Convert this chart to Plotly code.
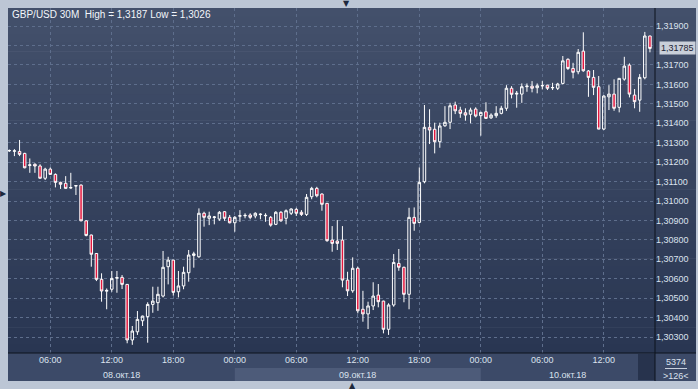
import pandas as pd
import plotly.graph_objects as go

# ---------------- data ----------------
symbol = "GBP/USD"
timeframe = "30M"
start_time = "2018-10-08 02:00"
bar_minutes = 30

open_ = [1.31258, 1.31256, 1.31255, 1.31245, 1.31183, 1.31189, 1.31180, 1.31117, 1.31164, 1.31137,
         1.31096, 1.31091, 1.31067, 1.31077, 1.31082, 1.30898, 1.30825, 1.30730, 1.30597, 1.30536,
         1.30546, 1.30603, 1.30607, 1.30571, 1.30285, 1.30327, 1.30384, 1.30405, 1.30468, 1.30477,
         1.30511, 1.30662, 1.30696, 1.30533, 1.30563, 1.30631, 1.30720, 1.30713, 1.30937, 1.30911,
         1.30915, 1.30907, 1.30945, 1.30916, 1.30888, 1.30922, 1.30924, 1.30928, 1.30923, 1.30930,
         1.30924, 1.30916, 1.30880, 1.30942, 1.30911, 1.30937, 1.30957, 1.30942, 1.30931, 1.31022,
         1.31065, 1.31036, 1.30988, 1.30799, 1.30794, 1.30799, 1.30593, 1.30538, 1.30654, 1.30443,
         1.30419, 1.30460, 1.30516, 1.30485, 1.30340, 1.30465, 1.30679, 1.30659, 1.30520, 1.30916,
         1.30890, 1.31099, 1.31379, 1.31369, 1.31305, 1.31387, 1.31405, 1.31494, 1.31468, 1.31454,
         1.31446, 1.31473, 1.31439, 1.31459, 1.31428, 1.31439, 1.31451, 1.31477, 1.31580, 1.31550,
         1.31550, 1.31588, 1.31591, 1.31583, 1.31592, 1.31596, 1.31582, 1.31580, 1.31605, 1.31729,
         1.31682, 1.31665, 1.31771, 1.31669, 1.31636, 1.31588, 1.31370, 1.31536, 1.31550, 1.31482,
         1.31627, 1.31699, 1.31545, 1.31519, 1.31634, 1.31849]

high = [1.31265, 1.31267, 1.31314, 1.31248, 1.31219, 1.31194, 1.31189, 1.31171, 1.31173, 1.31142,
        1.31099, 1.31128, 1.31145, 1.31080, 1.31085, 1.30901, 1.30827, 1.30732, 1.30628, 1.30550,
        1.30640, 1.30640, 1.30619, 1.30573, 1.30357, 1.30434, 1.30410, 1.30479, 1.30559, 1.30559,
        1.30743, 1.30713, 1.30698, 1.30640, 1.30662, 1.30748, 1.30739, 1.30962, 1.30945, 1.30945,
        1.30923, 1.30948, 1.30948, 1.30928, 1.30923, 1.30953, 1.30937, 1.30937, 1.30942, 1.30937,
        1.30937, 1.30923, 1.30948, 1.30948, 1.30957, 1.30962, 1.30965, 1.30953, 1.31036, 1.31073,
        1.31073, 1.31039, 1.30990, 1.30871, 1.30902, 1.30871, 1.30636, 1.30710, 1.30662, 1.30538,
        1.30482, 1.30582, 1.30573, 1.30487, 1.30474, 1.30727, 1.30753, 1.30662, 1.30965, 1.30967,
        1.31173, 1.31494, 1.31472, 1.31403, 1.31403, 1.31488, 1.31505, 1.31511, 1.31485, 1.31477,
        1.31480, 1.31482, 1.31459, 1.31508, 1.31451, 1.31488, 1.31490, 1.31596, 1.31591, 1.31566,
        1.31605, 1.31605, 1.31617, 1.31605, 1.31617, 1.31598, 1.31608, 1.31608, 1.31746, 1.31734,
        1.31711, 1.31782, 1.31868, 1.31674, 1.31674, 1.31643, 1.31545, 1.31596, 1.31626, 1.31633,
        1.31742, 1.31708, 1.31576, 1.31653, 1.31870, 1.31850]

low = [1.31252, 1.31231, 1.31231, 1.31168, 1.31145, 1.31145, 1.31115, 1.31108, 1.31134, 1.31070,
       1.31062, 1.31063, 1.31063, 1.31031, 1.30896, 1.30818, 1.30662, 1.30588, 1.30482, 1.30443,
       1.30533, 1.30528, 1.30547, 1.30268, 1.30260, 1.30311, 1.30357, 1.30271, 1.30425, 1.30435,
       1.30504, 1.30571, 1.30513, 1.30504, 1.30546, 1.30585, 1.30657, 1.30708, 1.30868, 1.30876,
       1.30880, 1.30898, 1.30898, 1.30885, 1.30842, 1.30893, 1.30911, 1.30906, 1.30911, 1.30906,
       1.30893, 1.30868, 1.30876, 1.30893, 1.30880, 1.30928, 1.30923, 1.30923, 1.30923, 1.31009,
       1.31019, 1.30950, 1.30790, 1.30739, 1.30748, 1.30556, 1.30511, 1.30528, 1.30422, 1.30379,
       1.30341, 1.30439, 1.30453, 1.30319, 1.30311, 1.30456, 1.30641, 1.30479, 1.30443, 1.30847,
       1.30885, 1.31091, 1.31293, 1.31245, 1.31274, 1.31382, 1.31370, 1.31447, 1.31428, 1.31413,
       1.31400, 1.31430, 1.31336, 1.31422, 1.31422, 1.31428, 1.31446, 1.31464, 1.31528, 1.31480,
       1.31505, 1.31562, 1.31559, 1.31554, 1.31574, 1.31571, 1.31571, 1.31571, 1.31600, 1.31674,
       1.31631, 1.31652, 1.31665, 1.31536, 1.31545, 1.31369, 1.31365, 1.31468, 1.31464, 1.31456,
       1.31619, 1.31533, 1.31477, 1.31459, 1.31626, 1.31765]

close = [1.31260, 1.31258, 1.31240, 1.31171, 1.31186, 1.31180, 1.31117, 1.31164, 1.31137, 1.31096,
         1.31086, 1.31065, 1.31069, 1.31079, 1.30898, 1.30823, 1.30726, 1.30597, 1.30537, 1.30540,
         1.30602, 1.30606, 1.30571, 1.30285, 1.30331, 1.30391, 1.30408, 1.30468, 1.30485, 1.30520,
         1.30659, 1.30696, 1.30530, 1.30563, 1.30633, 1.30722, 1.30728, 1.30937, 1.30916, 1.30923,
         1.30918, 1.30942, 1.30911, 1.30888, 1.30916, 1.30924, 1.30926, 1.30916, 1.30937, 1.30932,
         1.30926, 1.30876, 1.30942, 1.30898, 1.30950, 1.30959, 1.30937, 1.30931, 1.31019, 1.31065,
         1.31027, 1.30983, 1.30796, 1.30782, 1.30782, 1.30593, 1.30538, 1.30654, 1.30435, 1.30419,
         1.30460, 1.30511, 1.30482, 1.30340, 1.30465, 1.30684, 1.30659, 1.30520, 1.30916, 1.30885,
         1.31096, 1.31379, 1.31365, 1.31305, 1.31386, 1.31405, 1.31490, 1.31464, 1.31451, 1.31442,
         1.31468, 1.31437, 1.31456, 1.31425, 1.31442, 1.31451, 1.31477, 1.31580, 1.31549, 1.31554,
         1.31588, 1.31591, 1.31580, 1.31593, 1.31594, 1.31580, 1.31584, 1.31602, 1.31721, 1.31682,
         1.31662, 1.31765, 1.31670, 1.31636, 1.31585, 1.31370, 1.31540, 1.31550, 1.31477, 1.31631,
         1.31694, 1.31550, 1.31511, 1.31636, 1.31849, 1.31785]

price_ticks = [1.303, 1.304, 1.305, 1.306, 1.307, 1.308, 1.309, 1.310, 1.311,
               1.312, 1.313, 1.314, 1.315, 1.316, 1.317, 1.318, 1.319]
day_labels = ["08.окт.18", "09.окт.18", "10.окт.18"]
day_starts = ["2018-10-08", "2018-10-09", "2018-10-10"]
total_bars_label = "5374"
visible_bars_label = ">126<"

# ---------------- styling ----------------
FONT = "Liberation Sans"
TXT = "#dbe2ee"
GRID = "#5e6e8c"
AXLINE = "#0c121d"
PAPER = "#bcc6d5"

times = pd.date_range(start_time, periods=len(close), freq=f"{bar_minutes}min")
x_start = times[0] - pd.Timedelta(minutes=7.6)
x_end = x_start + pd.Timedelta(minutes=bar_minutes * 126.24)

W, H = 698, 389
ML, MR, MT, MB = 8, 43, 8, 36
PW, PH = W - ML - MR, H - MT - MB


def px(xp):
    return (xp - ML) / PW


def py(yp):
    return (H - MB - yp) / PH


def fmt(v, d):
    return f"{v:.{d}f}".replace(".", ",")


fig = go.Figure()
fig.add_trace(go.Candlestick(
    x=times, open=open_, high=high, low=low, close=close,
    increasing=dict(line=dict(color="#ffffff", width=1), fillcolor="rgba(0,0,0,0)"),
    decreasing=dict(line=dict(color="#ffffff", width=1), fillcolor="#e3173e"),
    whiskerwidth=0, showlegend=False, hoverinfo="skip",
))

shapes = []
# vertical gradient background (plot + right axis band)
top_c = (67, 80, 107)
bot_c = (41, 54, 82)
n = 40
for k in range(n):
    t = k / (n - 1)
    c = tuple(round(top_c[j] + (bot_c[j] - top_c[j]) * t) for j in range(3))
    shapes.append(dict(type="rect", xref="paper", yref="paper",
                       x0=0, x1=px(696), y0=1 - (k + 1) / n - 0.002, y1=1 - k / n,
                       fillcolor=f"rgb{c}", line=dict(width=0), layer="below"))
# bottom time axis band
shapes.append(dict(type="rect", xref="paper", yref="paper", x0=0, x1=px(696),
                   y0=py(381), y1=0, fillcolor="#3c4a68", line=dict(width=0), layer="below"))
# day band (second day highlighted)
shapes.append(dict(type="rect", xref="x", yref="paper", x0=day_starts[1], x1=day_starts[2],
                   y0=py(381), y1=py(368), fillcolor="#4d5b79", line=dict(width=0), layer="below"))
# dark box at the end of time axis
shapes.append(dict(type="rect", xref="paper", yref="paper", x0=px(638), x1=1,
                   y0=py(380), y1=py(354), fillcolor="#27334d", line=dict(width=0), layer="below"))
# separator lines
shapes.append(dict(type="line", xref="paper", yref="paper", x0=0, x1=px(696), y0=0, y1=0,
                   line=dict(color=AXLINE, width=1)))
shapes.append(dict(type="line", xref="paper", yref="paper", x0=1, x1=1, y0=py(381), y1=1,
                   line=dict(color=AXLINE, width=1)))
shapes.append(dict(type="line", xref="paper", yref="paper", x0=px(665), x1=px(687),
                   y0=py(368.5), y1=py(368.5), line=dict(color="#c9d1de", width=1)))

annotations = []
title = f"{symbol} {timeframe}  High = {fmt(max(high), 4)} Low = {fmt(min(low), 4)}"
annotations.append(dict(text=title, xref="paper", yref="paper", x=px(10), y=py(14.5),
                        xanchor="left", yanchor="middle", showarrow=False,
                        font=dict(family=FONT, size=10, color="#f2f5fa")))
# date labels centred on the visible part of each day
bounds = [x_start] + [pd.Timestamp(d) for d in day_starts[1:]] + [x_end]
for lab, a, b in zip(day_labels, bounds[:-1], bounds[1:]):
    annotations.append(dict(text=lab, xref="x", yref="paper", x=a + (b - a) / 2, y=py(374.5),
                            xanchor="center", yanchor="middle", showarrow=False,
                            font=dict(family=FONT, size=9, color=TXT)))
annotations.append(dict(text=total_bars_label, xref="paper", yref="paper", x=px(676), y=py(362),
                        xanchor="center", yanchor="middle", showarrow=False,
                        font=dict(family=FONT, size=9, color=TXT)))
annotations.append(dict(text=visible_bars_label, xref="paper", yref="paper", x=px(676), y=py(375.5),
                        xanchor="center", yanchor="middle", showarrow=False,
                        font=dict(family=FONT, size=9, color=TXT)))
# last price tag (covers the tick label next to it, as in the original)
annotations.append(dict(text=fmt(close[-1], 5), xref="paper", yref="y",
                        x=px(658.5), y=close[-1], xanchor="left", yanchor="middle", showarrow=False,
                        bgcolor="#c9cfd9", borderpad=1,
                        font=dict(family=FONT, size=9, color="#1b2334")))
# small navigation arrows on the frame
for sym, xx, yy in [("▼", 346, 3.5), ("▲", 352, 385.5), ("▶", 3.5, 193.5)]:
    annotations.append(dict(text=sym, xref="paper", yref="paper", x=px(xx), y=py(yy),
                            xanchor="center", yanchor="middle", showarrow=False,
                            font=dict(family="DejaVu Sans", size=8, color="#1d283c")))

tick_text = ["" if abs(v - close[-1]) < 0.0005 else fmt(v, 5) for v in price_ticks]

fig.update_layout(
    width=W, height=H,
    margin=dict(l=ML, r=MR, t=MT, b=MB, pad=0),
    paper_bgcolor=PAPER,
    plot_bgcolor="rgba(0,0,0,0)",
    separators=", ",
    showlegend=False,
    shapes=shapes,
    annotations=annotations,
    xaxis=dict(
        type="date", range=[x_start, x_end], rangeslider=dict(visible=False),
        tickformat="%H:%M", dtick=6 * 3600 * 1000, tick0="2018-10-08 00:00",
        showgrid=True, gridcolor=GRID, griddash="dot", gridwidth=1,
        showline=False, zeroline=False, ticks="",
        tickfont=dict(family=FONT, size=9, color=TXT),
    ),
    yaxis=dict(
        side="right", range=[1.30218, 1.31993],
        tickmode="array", tickvals=price_ticks, ticktext=tick_text,
        showgrid=True, gridcolor=GRID, griddash="dot", gridwidth=1,
        showline=False, zeroline=False, ticks="",
        tickfont=dict(family=FONT, size=9, color=TXT),
    ),
)

fig.write_html("out.html")
